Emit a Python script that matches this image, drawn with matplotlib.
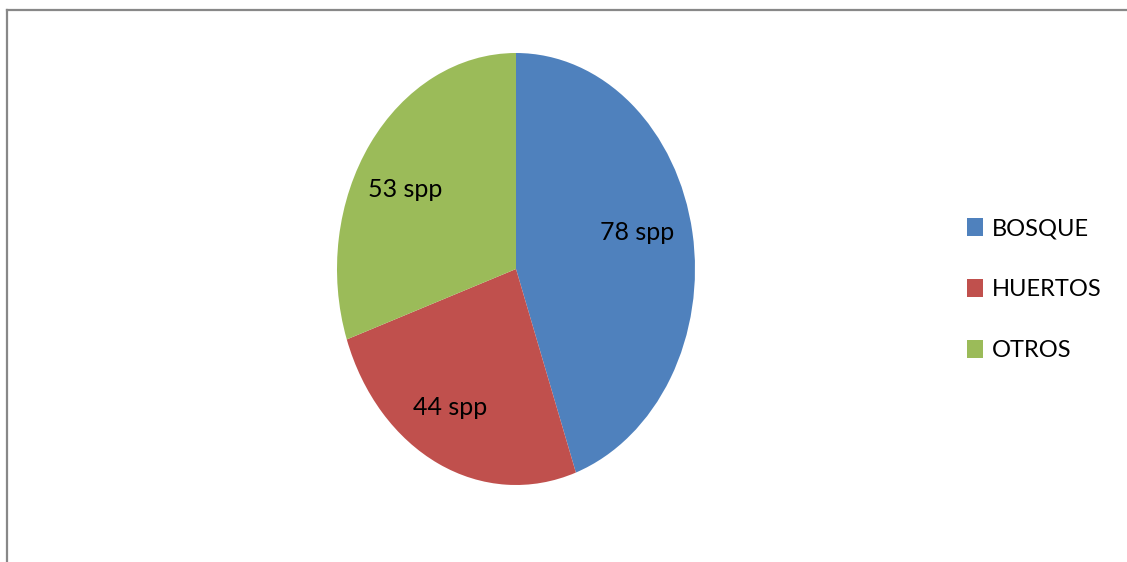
import matplotlib.pyplot as plt
from matplotlib.patches import Patch
from matplotlib.lines import Line2D

# Species count per habitat
categories = ['BOSQUE', 'HUERTOS', 'OTROS']
species = [78, 44, 53]
colors = ['#4F81BD', '#C0504D', '#9BBB59']

plt.rcParams['font.family'] = ['Lato', 'DejaVu Sans']

W, H = 1127, 562
fig = plt.figure(figsize=(W / 100, H / 100), dpi=100)

# pie axes: stretched so the pie comes out as a tall ellipse
ax = fig.add_axes([337 / W, 77 / H, 358 / W, 432 / H])
total = sum(species)
wedges, texts, autotexts = ax.pie(
    species,
    colors=colors,
    startangle=90,
    counterclock=False,
    autopct=lambda p: f'{round(p * total / 100)} spp',
    pctdistance=0.72,
    wedgeprops=dict(linewidth=0),
    textprops=dict(fontsize=18, color='black'),
)
# nudge the value labels inside their wedges
label_xy = [(0.676, 0.171), (-0.369, -0.643), (-0.62, 0.37)]
for t, xy in zip(autotexts, label_xy):
    t.set_position(xy)
ax.set_aspect('auto')
ax.set_xlim(-1, 1)
ax.set_ylim(-1, 1)
ax.axis('off')

# Legend on the right
handles = [Patch(facecolor=c, edgecolor='none') for c in colors]
fig.legend(handles, categories,
           loc='center left',
           bbox_to_anchor=(967 / W, (H - 289.5) / H),
           bbox_transform=fig.transFigure,
           frameon=False, fontsize=17,
           handlelength=0.68, handleheight=0.82, handletextpad=0.38,
           labelspacing=1.67, borderpad=0, borderaxespad=0)

# Chart area border (top and left edges visible)
border = dict(color='#888888', linewidth=1.6, transform=fig.transFigure)
fig.add_artist(Line2D([7 / W, 7 / W], [0, (H - 9.5) / H], **border))
fig.add_artist(Line2D([7 / W, 1], [(H - 9.5) / H, (H - 9.5) / H], **border))

plt.savefig('out.png', dpi=100)
